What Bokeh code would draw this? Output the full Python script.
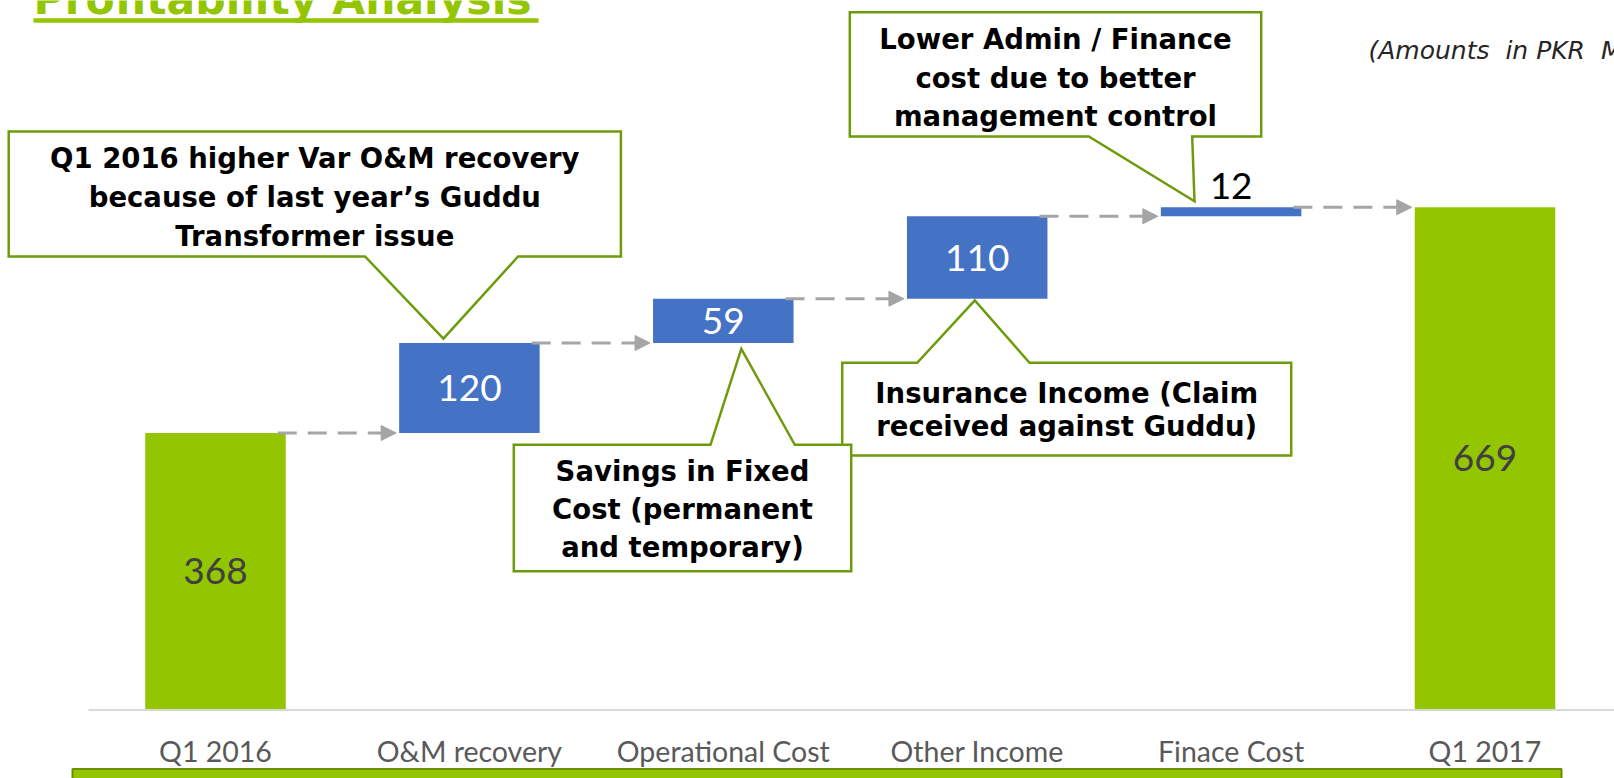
from bokeh.plotting import figure
from bokeh.models import Range1d, ColumnDataSource, Arrow, NormalHead
from bokeh.core.properties import value
from bokeh.embed import file_html
from bokeh.resources import INLINE

# ---------------- data ----------------
categories = ["Q1 2016", "O&M recovery", "Operational Cost", "Other Income", "Finace Cost", "Q1 2017"]
values = [368, 120, 59, 110, 12, 669]
is_total = [True, False, False, False, False, True]

title_text = "Profitability Analysis"
units_text = "(Amounts\u00a0 in PKR\u00a0 Million)"
callout_texts = [
    ["Q1 2016 higher Var O&M recovery", "because of last year\u2019s Guddu", "Transformer issue"],
    ["Lower Admin / Finance", "cost due to better", "management control"],
    ["Insurance Income (Claim", "received against Guddu)"],
    ["Savings in Fixed", "Cost (permanent", "and temporary)"],
]
callout_bar = [1, 4, 3, 2]

# ---------------- layout (page pixels) ----------------
W, H = 1614, 778
PAGE = 0
X0_PX, STEP_PX = 215.0, 253.9      # centre of first category, category pitch
BASE_PX, PX_PER_UNIT = 708.5, 0.75  # y of zero line, pixels per value unit


def X(px):
    return (px - X0_PX) / STEP_PX


def Y(py):
    return (BASE_PX - py) / PX_PER_UNIT


def PX(x):
    return X0_PX + x * STEP_PX


def PY(v):
    return BASE_PX - v * PX_PER_UNIT


GREEN = "#93c500"
BLUE = "#4472c4"
GRAY = "#a5a5a5"
OUTLINE = "#6e9b0c"
BAR_W = 140.5 / STEP_PX

# waterfall geometry from data
bottoms, tops, colors, label_colors = [], [], [], []
running = 0
for v, tot in zip(values, is_total):
    if tot:
        b, t = 0, v
    else:
        b, t = running, running + v
    running = t
    bottoms.append(b)
    tops.append(t)
    colors.append(GREEN if tot else BLUE)
    label_colors.append("#404040" if tot else "white")

xs = list(range(len(categories)))

p = figure(width=W, height=H, output_backend="svg", toolbar_location=None,
           x_range=Range1d(X(PAGE), X(PAGE + W)), y_range=Range1d(Y(PAGE + H), Y(PAGE)),
           x_axis_location=None, y_axis_location=None, title=None,
           min_border=0, min_border_left=0, min_border_right=0,
           min_border_top=0, min_border_bottom=0, outline_line_color=None,
           background_fill_color="white", border_fill_color="white")
p.grid.visible = False

# baseline
p.segment(x0=[X(88)], y0=[Y(709.5)], x1=[X(1620)], y1=[Y(709.5)],
          line_color="#d9d9d9", line_width=2)

# bars
src = ColumnDataSource(dict(x=xs, bottom=bottoms, top=tops, color=colors))
p.vbar(x="x", bottom="bottom", top="top", width=BAR_W, fill_color="color",
       line_color=None, source=src)

# connectors
cs = dict(xs=[], ys=[], xe=[], ye=[])
for i in range(len(values) - 1):
    lvl = tops[i]
    cs["xs"].append(i + BAR_W / 2 - 8 / STEP_PX)
    cs["xe"].append(i + 1 - BAR_W / 2 - 3 / STEP_PX)
    cs["ys"].append(lvl)
    cs["ye"].append(lvl)
p.add_layout(Arrow(end=NormalHead(size=15, fill_color=GRAY, line_color=GRAY, line_width=1),
                   source=ColumnDataSource(cs), x_start="xs", y_start="ys", x_end="xe", y_end="ye",
                   line_color=GRAY, line_width=3, line_dash="19 11"))

# value labels
lab_x, lab_y, lab_t, lab_c = [], [], [], []
for i, v in enumerate(values):
    if v < 30:
        continue
    lab_x.append(i)
    lab_y.append((bottoms[i] + tops[i]) / 2)
    lab_t.append(str(v))
    lab_c.append(label_colors[i])
p.text(x=lab_x, y=lab_y, text=lab_t, text_color=lab_c, text_font=value("Lato"),
       text_font_size="37px", text_align="center", text_baseline="middle")
small = [i for i, v in enumerate(values) if v < 30]
p.text(x=small, y=[tops[i] for i in small], text=[str(values[i]) for i in small],
       text_color="black", text_font=value("Lato"), text_font_size="37px",
       text_align="center", text_baseline="middle", y_offset=-21.5)

# category labels
p.text(x=xs, y=[Y(750.5)] * len(xs), text=categories, text_color="#595959",
       text_font=value("Lato"), text_font_size="28.5px", text_align="center",
       text_baseline="middle")

# callouts: box (L,T,R,B), pointer side, base x1,x2, tip offset from bar edge, line centres
callout_geo = [
    dict(box=(8.2, 131, 620.4, 256), side="bottom", base=(364.5, 517.6), tip=(-26, -4.4), lines=(157.8, 196.7, 235.7)),
    dict(box=(849.3, 11.7, 1260.7, 136), side="bottom", base=(1088.3, 1191.7), tip=(-36.6, -6), lines=(38.0, 77.0, 115.5)),
    dict(box=(841.7, 362.3, 1290.7, 455), side="top", base=(916.7, 1029), tip=(-2.4, 1.7), lines=(392.8, 425.5)),
    dict(box=(513.3, 444.3, 850.7, 570.7), side="top", base=(710, 794.3), tip=(18, 5.8), lines=(470.8, 508.5, 546.0)),
]
pxs, pys = [], []
tx_, ty_, tt_ = [], [], []
for geo, bar, lines in zip(callout_geo, callout_bar, callout_texts):
    L, T, R, B = geo["box"]
    x1, x2 = geo["base"]
    if geo["side"] == "bottom":
        tipx, tipy = PX(bar) + geo["tip"][0], PY(tops[bar]) + geo["tip"][1]
        pts = [(L, T), (R, T), (R, B), (x2, B), (tipx, tipy), (x1, B), (L, B)]
    else:
        tipx, tipy = PX(bar) + geo["tip"][0], PY(bottoms[bar]) + geo["tip"][1]
        pts = [(L, T), (x1, T), (tipx, tipy), (x2, T), (R, T), (R, B), (L, B)]
    pxs.append([X(a) for a, _ in pts])
    pys.append([Y(b) for _, b in pts])
    for ln, c in zip(lines, geo["lines"]):
        tx_.append(X((L + R) / 2))
        ty_.append(Y(c))
        tt_.append(ln)
p.patches(xs=pxs, ys=pys, fill_color="white", line_color=OUTLINE, line_width=2.5, line_join="miter")
p.text(x=tx_, y=ty_, text=tt_, text_color="black", text_font=value("DejaVu Sans"),
       text_font_style="bold", text_font_size="27.5px", text_align="center", text_baseline="middle")

# title and underline
p.text(x=[X(33)], y=[Y(-1.5)], text=[title_text], text_color=GREEN, text_font=value("DejaVu Sans"),
       text_font_style="bold", text_font_size="42.5px", text_align="left", text_baseline="middle")
p.quad(left=[X(33)], right=[X(538)], top=[Y(17.7)], bottom=[Y(22.3)], fill_color=GREEN, line_color=None)

# units note
p.text(x=[X(1368)], y=[Y(49.6)], text=[units_text], text_color="#262626", text_font=value("DejaVu Sans"),
       text_font_style="italic", text_font_size="25px", text_align="left", text_baseline="middle")

# bottom band
p.quad(left=[X(72)], right=[X(1561)], top=[Y(768.5)], bottom=[Y(800)], fill_color=GREEN,
       line_color="#6b8f00", line_width=2)

open("out.html", "w").write(file_html(p, INLINE))
